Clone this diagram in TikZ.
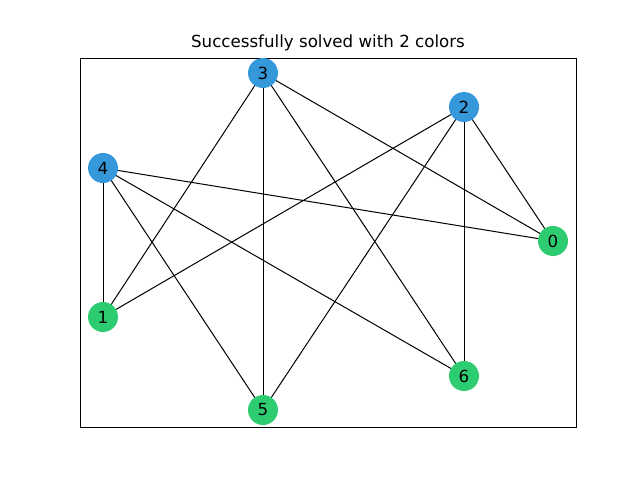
\documentclass[tikz,border=0pt]{standalone}
\usepackage{fontspec}
\setmainfont{DejaVu Sans}
\usepackage{tikz}

\definecolor{nodeblue}{HTML}{3498DB}
\definecolor{nodegreen}{HTML}{2ECC71}

\begin{document}
\begin{tikzpicture}[x=0.72pt, y=-0.72pt, outer sep = 0pt]

\tikzstyle{vertex}=[circle, minimum size=21.6pt, inner sep=0pt, font=\fontsize{12}{14}\selectfont]
\tikzstyle{bluev}=[vertex, fill=nodeblue]
\tikzstyle{greenv}=[vertex, fill=nodegreen]
\tikzstyle{edge}=[draw, black, line width=0.72pt]

\useasboundingbox (0,0) rectangle (640,480);
\draw[line width=0.576pt] (80,58) rectangle (576,427);
\node[font=\fontsize{12}{14}\selectfont] (title) at (328,43) {Successfully solved with 2 colors};

% edges
\coordinate (c3) at (263,73); \coordinate (c2) at (464,107); \coordinate (c4) at (103,168);
\coordinate (c0) at (553,241); \coordinate (c1) at (103,317); \coordinate (c6) at (464,376);
\coordinate (c5) at (263,410);
\foreach \a/\b in {3/1, 3/5, 3/6, 3/0, 2/1, 2/5, 2/6, 2/0, 4/0, 4/1, 4/5, 4/6}
  \draw[edge] (c\a) -- (c\b);

% vertices
\node[greenv] (n0) at (c0) {0}; \node[greenv] (n1) at (c1) {1}; \node[bluev] (n2) at (c2) {2};
\node[bluev] (n3) at (c3) {3}; \node[bluev] (n4) at (c4) {4}; \node[greenv] (n5) at (c5) {5};
\node[greenv] (n6) at (c6) {6};

\end{tikzpicture}
\end{document}
